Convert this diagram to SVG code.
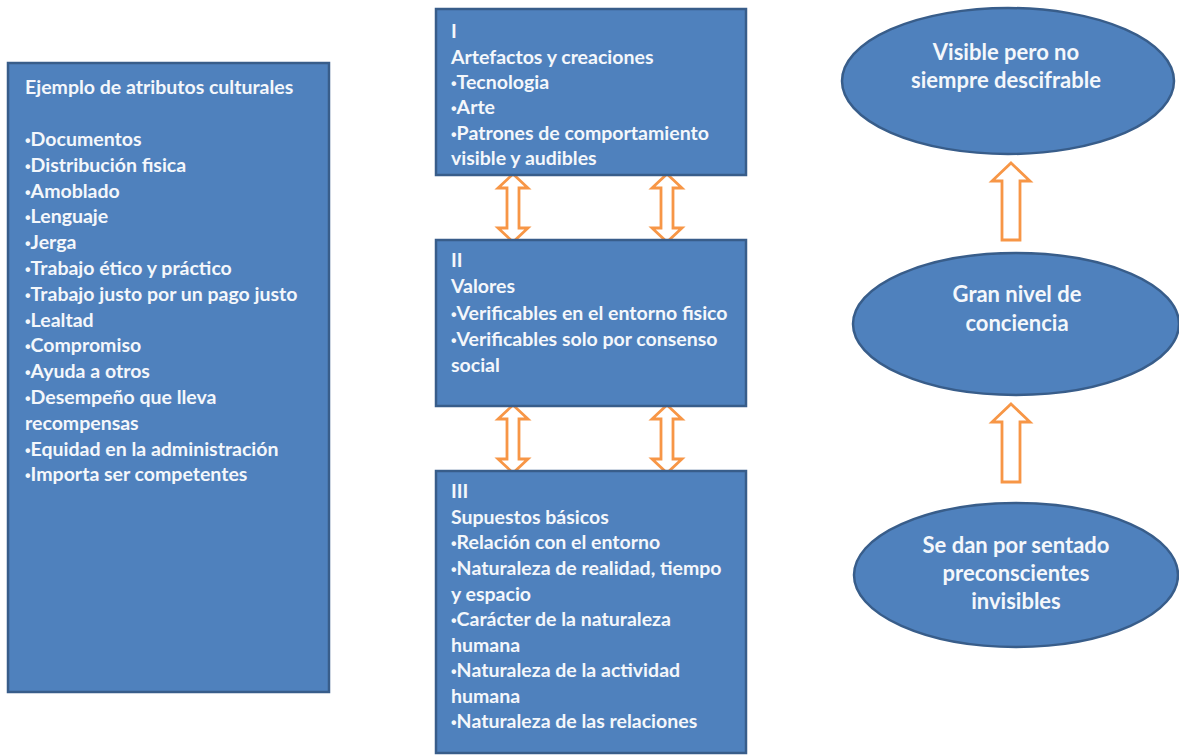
<svg xmlns="http://www.w3.org/2000/svg" width="1179" height="755" viewBox="0 0 1179 755">
<defs>
<style>
.box{fill:#4F81BD;stroke:#385D8A;stroke-width:2.5}
.t{fill:#F4F7FB;font-family:"Lato","Liberation Sans",sans-serif;font-weight:700;font-size:19.5px}
.e{font-size:22px}
.c{text-anchor:middle}
.b{font-family:"Liberation Sans",sans-serif;font-size:16px}
.arr{fill:#FFFFFF;stroke:#F79646;stroke-width:2.8;stroke-linejoin:miter}
</style>
</defs>
<rect width="1179" height="755" fill="#FFFFFF"/>
<g id="connectors">
<polygon class="arr" points="513,174 528,188 519,188 519,228 528,228 513,242 498,228 507,228 507,188 498,188"/>
<polygon class="arr" points="667,174 682,188 673,188 673,228 682,228 667,242 652,228 661,228 661,188 652,188"/>
<polygon class="arr" points="513,405 528,419 519,419 519,459 528,459 513,473 498,459 507,459 507,419 498,419"/>
<polygon class="arr" points="667,405 682,419 673,419 673,459 682,459 667,473 652,459 661,459 661,419 652,419"/>
<polygon class="arr" points="1011,163 1030,181 1020,181 1020,240 1002,240 1002,181 992,181"/>
<polygon class="arr" points="1011,404 1030,422 1020,422 1020,482 1002,482 1002,422 992,422"/>
</g>
<g id="atributos">
<rect class="box" x="8" y="63" width="321" height="629"/>
<text class="t" x="25" y="94">Ejemplo de atributos culturales</text>
<text class="t" x="25" y="146"><tspan class="b">•</tspan>Documentos</text>
<text class="t" x="25" y="172"><tspan class="b">•</tspan>Distribución fisica</text>
<text class="t" x="25" y="197.6"><tspan class="b">•</tspan>Amoblado</text>
<text class="t" x="25" y="223.4"><tspan class="b">•</tspan>Lenguaje</text>
<text class="t" x="25" y="249.2"><tspan class="b">•</tspan>Jerga</text>
<text class="t" x="25" y="275"><tspan class="b">•</tspan>Trabajo ético y práctico</text>
<text class="t" x="25" y="300.8"><tspan class="b">•</tspan>Trabajo justo por un pago justo</text>
<text class="t" x="25" y="326.6"><tspan class="b">•</tspan>Lealtad</text>
<text class="t" x="25" y="352.4"><tspan class="b">•</tspan>Compromiso</text>
<text class="t" x="25" y="378.2"><tspan class="b">•</tspan>Ayuda a otros</text>
<text class="t" x="25" y="404"><tspan class="b">•</tspan>Desempeño que lleva</text>
<text class="t" x="25" y="429.8">recompensas</text>
<text class="t" x="25" y="455.6"><tspan class="b">•</tspan>Equidad en la administración</text>
<text class="t" x="25" y="481.4"><tspan class="b">•</tspan>Importa ser competentes</text>
</g>
<g id="nivel1">
<rect class="box" x="436" y="9" width="310" height="166"/>
<text class="t" x="451" y="38">I</text>
<text class="t" x="451" y="63.5">Artefactos y creaciones</text>
<text class="t" x="451" y="89"><tspan class="b">•</tspan>Tecnologia</text>
<text class="t" x="451" y="114"><tspan class="b">•</tspan>Arte</text>
<text class="t" x="451" y="139.5"><tspan class="b">•</tspan>Patrones de comportamiento</text>
<text class="t" x="451" y="165">visible y audibles</text>
</g>
<g id="nivel2">
<rect class="box" x="436" y="240" width="310" height="166"/>
<text class="t" x="451" y="267">II</text>
<text class="t" x="451" y="293">Valores</text>
<text class="t" x="451" y="320"><tspan class="b">•</tspan>Verificables en el entorno fisico</text>
<text class="t" x="451" y="346"><tspan class="b">•</tspan>Verificables solo por consenso</text>
<text class="t" x="451" y="372">social</text>
</g>
<g id="nivel3">
<rect class="box" x="436" y="471" width="310" height="282"/>
<text class="t" x="451" y="498">III</text>
<text class="t" x="451" y="523.5">Supuestos básicos</text>
<text class="t" x="451" y="549"><tspan class="b">•</tspan>Relación con el entorno</text>
<text class="t" x="451" y="575"><tspan class="b">•</tspan>Naturaleza de realidad, tiempo</text>
<text class="t" x="451" y="600.5">y espacio</text>
<text class="t" x="451" y="626"><tspan class="b">•</tspan>Carácter de la naturaleza</text>
<text class="t" x="451" y="651.5">humana</text>
<text class="t" x="451" y="677"><tspan class="b">•</tspan>Naturaleza de la actividad</text>
<text class="t" x="451" y="702.5">humana</text>
<text class="t" x="451" y="728"><tspan class="b">•</tspan>Naturaleza de las relaciones</text>
</g>
<g id="visible">
<ellipse class="box" cx="1008" cy="81" rx="166" ry="73"/>
<text class="t e c" x="1006" y="60">Visible pero no</text>
<text class="t e c" x="1006" y="88">siempre descifrable</text>
</g>
<g id="conciencia">
<ellipse class="box" cx="1016" cy="324" rx="163" ry="71"/>
<text class="t e c" x="1017" y="302">Gran nivel de</text>
<text class="t e c" x="1017" y="331">conciencia</text>
</g>
<g id="supuestos">
<ellipse class="box" cx="1016" cy="575" rx="162" ry="72"/>
<text class="t e c" x="1016" y="553">Se dan por sentado</text>
<text class="t e c" x="1016" y="581">preconscientes</text>
<text class="t e c" x="1016" y="609">invisibles</text>
</g>
</svg>
